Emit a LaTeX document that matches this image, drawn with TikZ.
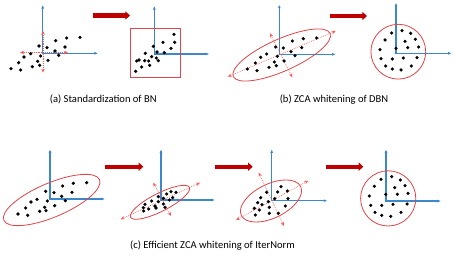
\documentclass[tikz,border=0pt]{standalone}
\usepackage{fontspec}
\setmainfont{Carlito}
\usepackage{tikz}
\usetikzlibrary{arrows.meta}

\definecolor{axisblue}{HTML}{3D88CC}
\definecolor{stepred}{HTML}{C00000}
\definecolor{ringred}{HTML}{E0474C}
\definecolor{axred}{HTML}{FF5A5A}

\begin{document}
\begin{tikzpicture}[
    x=0.03cm, y=-0.03cm,
    axis/.style={{Latex[length=3pt,width=2.5pt]}-{Latex[length=3pt,width=2.5pt]}, line width=0.9pt, axisblue},
    pca/.style={{Stealth[length=3.5pt,width=3pt]}-{Stealth[length=3.5pt,width=3pt]}, densely dotted, line width=0.6pt, axred},
    ring/.style={draw=ringred, line width=0.7pt},
    stepar/.style={-{Triangle[length=4pt,width=7pt]}, line width=3.5pt, stepred},
    pt/.style={fill=black},
    caption/.style={font=\fontsize{9}{11}\selectfont, inner sep=0pt}
]
\useasboundingbox (0,0) rectangle (458,262);

% (a)
\draw[axis] (42.7,5) |- (98,53.3);
\draw[pca] (20,52.5) -- (68,52.5);
\draw[pca] (43,30.7) -- (43,72.7);
\foreach \x/\y in {80/37.3,66.7/38,55.7/40.7,39/46,47/47.7,65/47,55/51,30.7/53.7,58.7/55.3,40.7/56,24/57,48/60.3,37.7/61.3,18.7/62.7,39.7/65.3,32.3/66.7,11/68.7,20.7/70}
    \fill[pt] (\x,\y) circle[radius=1.5pt];
\draw[stepar] (93,15.5) -- (130,15.5);
\draw[axis] (154.3,6) |- (209.3,54);
\draw[ring] (130,28.3) rectangle (180,77.7);
\foreach \x/\y in {174/34.3,174.7/42.3,163/42.3,171/48.3,153.3/46.3,157/52,164.3/52.7,145.3/53.3,151.7/56.7,156.3/58,158.3/60.7,136.7/61,139/60,144.7/60.7,148.7/61,149.7/65.3,141.7/67,135.7/71.3}
    \fill[pt] (\x,\y) circle[radius=1.5pt];
\node[caption] (capa) at (103.3,99.7) {(a) Standardization of BN};

% (b)
\draw[axis] (279.3,4.7) |- (335.7,54.3);
\draw[ring, shift={(281.7,55)}, rotate=24] (0,0) ellipse (53 and 16);
\draw[pca] (227.7,76.7) -- (335.7,31);
\draw[pca] (270,33.3) -- (292.3,77.3);
\foreach \x/\y in {303.3/38.7,316.7/38,292.3/41,275.7/47,283.3/48,301.7/47.7,291/51.7,266.7/54,260.7/57.3,277.3/56.3,295/55.7,274.3/62,284/61,255.3/63,276.3/65.7,269/67.3,247.3/69,257/70.7}
    \fill[pt] (\x,\y) circle[radius=1.5pt];
\draw[stepar] (330,16) -- (367,16);
\draw[axis] (396,2.7) |- (451.7,53.3);
\draw[ring] (398.3,51.7) circle[radius=27.4];
\foreach \x/\y in {391.7/33,402/30.7,410.7/33.3,385/40,405/41.3,415.3/39.3,380/49.7,396/48.3,407.7/47.7,418.7/47,381/58.7,392.3/59,403.3/58,417/57.7,385.7/66,392.3/69,401/70,411.3/66}
    \fill[pt] (\x,\y) circle[radius=1.5pt];
\node[caption] (capb) at (334,99.7) {(b) ZCA whitening of DBN};

% (c)
\draw[axis] (50,149.3) |- (105,199);
\draw[ring, shift={(51.7,200)}, rotate=23] (0,0) ellipse (52 and 17);
\foreach \x/\y in {86.7/182.7,73.3/183.3,62.7/186,45.7/191.3,54/192.7,72/192.3,61.7/196.3,37/199.3,31/202,47.3/201,65.3/200.7,54.7/205.7,25.7/208,44.7/207.3,39.7/211.3,46/210.7,18/214,27.7/215.3}
    \fill[pt] (\x,\y) circle[radius=1.5pt];
\draw[stepar] (105,166.7) -- (143.3,166.7);
\draw[axis] (161,149.3) |- (215,200);
\draw[ring, shift={(160,202.3)}, rotate=27] (0,0) ellipse (33 and 9);
\draw[pca] (120.7,219.3) -- (200,182.7);
\draw[pca] (153.3,182.7) -- (171,216);
\foreach \x/\y in {171/191.7,176/192.3,166.7/194,158.3/196.7,163.3/198.3,169.3/200,172.7/197.7,151.7/201,158.3/201.7,145/204.3,155/206,163.3/204,143.3/207.7,148.7/209,156/208,165/207.3,143.7/211}
    \fill[pt] (\x,\y) circle[radius=1.5pt];
\draw[stepar] (215,166.7) -- (252.7,166.7);
\draw[axis] (271.7,149.3) |- (327.3,200.7);
\draw[ring, shift={(271,201)}, rotate=26] (0,0) ellipse (33 and 17);
\draw[pca] (236,220) -- (308.3,180.7);
\draw[pca] (258.7,172.7) -- (284,226);
\foreach \x/\y in {281/186.7,277.7/192,287.3/191,266.7/192.3,260.7/197.7,288/198.7,274.7/198.7,257.7/202.7,268.3/201.7,262/204.7,269.3/207.3,285.3/206,254.3/208.3,259.3/210,269.3/213.3,278.3/213.3,255.3/215}
    \fill[pt] (\x,\y) circle[radius=1.5pt];
\draw[stepar] (326,166.7) -- (363.3,166.7);
\draw[axis] (386,149.3) |- (441,201);
\draw[ring] (388.2,198.4) circle[radius=27.6];
\foreach \x/\y in {381/179.3,391.7/176.7,400.3/180,374.3/186.3,394.7/187.7,405/185.7,369.3/196,385.7/194.3,397.3/194.3,408/193.3,370.7/205.3,381.7/205.3,393/204.3,407/204,375/212.3,381.7/215.3,390.7/216.3,401/212.3}
    \fill[pt] (\x,\y) circle[radius=1.5pt];
\node[caption] (capc) at (212.5,245.7) {(c) Efficient ZCA whitening of IterNorm};
\end{tikzpicture}
\end{document}
